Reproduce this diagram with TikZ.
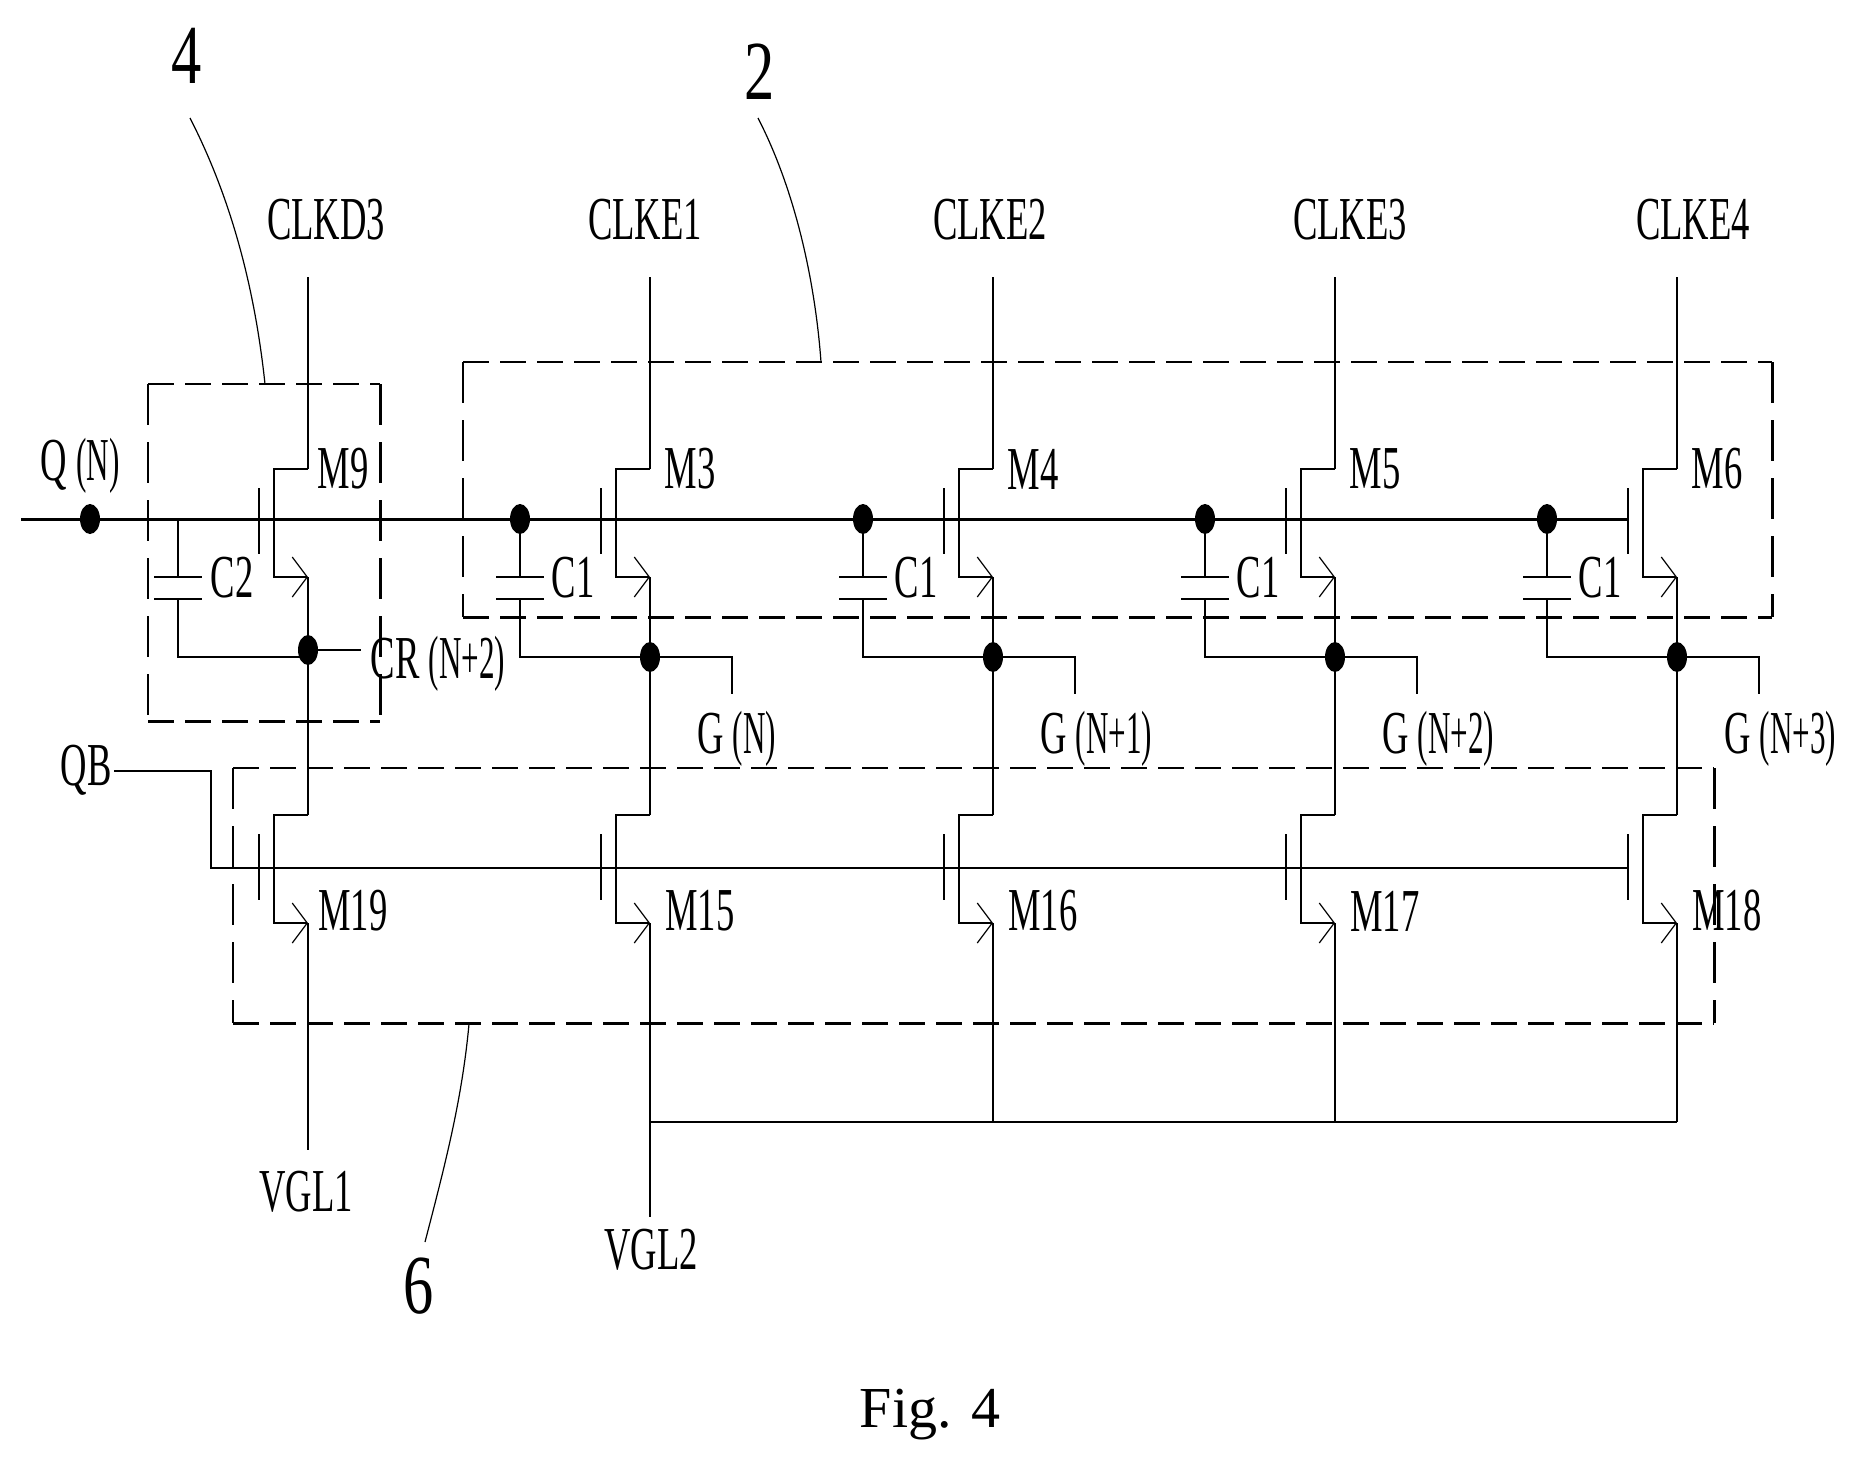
\documentclass[tikz,border=0pt]{standalone}
\usepackage{fontspec}
\setmainfont{Liberation Serif}
\usetikzlibrary{positioning,arrows.meta,shapes.geometric}

\newcommand{\pn}[1]{\scalebox{.85}[1]{(#1)}}
\newcommand{\mosfet}[3]{
    \coordinate (#1up) at (#2,#3);
    \coordinate (#1dn) at (#2,#3+108);
    \draw[wire,->] (#1up) -- (#2-34,#3) -- (#2-34,#3+108) -- (#1dn);
    \draw[wire] (#2-49,#3+19) -- (#2-49,#3+85);
}
\newcommand{\capac}[2]{
    \coordinate (#1a) at (#2,577);
    \coordinate (#1b) at (#2,599);
    \draw[wire] ([xshift=-24pt]#1a) -- ([xshift=24pt]#1a);
    \draw[wire] ([xshift=-24pt]#1b) -- ([xshift=24pt]#1b);
}

\begin{document}
\begin{tikzpicture}[x=1pt,y=-1pt]
    \begin{scope}[>={Straight Barb[length=15pt,width=40pt,line width=1.2pt]},
    		wire/.style={line width=2.3pt},
    		bus/.style={line width=3pt},
    		lead/.style={line width=1.2pt},
    		hdash/.style={line width=2.6pt,dash pattern=on 26pt off 11pt},
    		vdash/.style={line width=2.2pt,dash pattern=on 41pt off 17pt},
    		region/.style={rectangle,anchor=north west,inner sep=0pt},
    		dot/.style={ellipse,fill=black,inner sep=0pt,minimum width=20pt,minimum height=30pt},
    		lab/.style={font=\fontsize{61}{61}\selectfont,xscale=.6,inner sep=0pt},
    		num/.style={font=\fontsize{84}{84}\selectfont,xscale=.72,inner sep=0pt}]

    \useasboundingbox (0,0) rectangle (1858,1461);

    \node[region,minimum width=232pt,minimum height=337pt] (box4) at (148,384) {};
    \node[region,minimum width=1309pt,minimum height=255pt] (box2) at (463,362) {};
    \node[region,minimum width=1481pt,minimum height=255pt] (box6) at (233,768) {};

    \foreach \b in {box4,box2,box6}{
        \draw[hdash] (\b.north west) -- (\b.north east);
        \draw[hdash] (\b.south west) -- (\b.south east);
        \draw[vdash] (\b.north west) -- (\b.south west);
        \draw[vdash] (\b.north east) -- (\b.south east);
    }

    \node[num] (num4) at (187,56) {4};
    \node[num] (num2) at (760,72) {2};
    \node[num] (num6) at (419,1286) {6};
    \coordinate (tap4) at (265,384);
    \coordinate (tap2) at (821,362);
    \coordinate (tap6) at (469,1024);
    \coordinate (from4) at (190,118);
    \coordinate (from2) at (758,118);
    \coordinate (from6) at (425,1242);
    \draw[lead] (from4) .. controls (232,200) and (255,290) .. (tap4);
    \draw[lead] (from2) .. controls (795,190) and (815,280) .. (tap2);
    \draw[lead] (from6) .. controls (445,1165) and (462,1100) .. (tap6);

    % gate lines
    \node[lab] (qn) at (80,466) {Q \pn{N}};
    \node[lab] (qb) at (86,770) {QB};
    \coordinate (qstart) at (21,519);
    \coordinate (qend) at (1628,519);
    \coordinate (qbstart) at (114,771);
    \coordinate (qbend) at (1628,868);
    \draw[bus] (qstart) -- (qend);
    \draw[wire] (qbstart) -| (211,868) -- (qbend);
    \node[dot] (qdot) at (90,519) {};

    % first column
    \mosfet{m9}{308}{469}
    \mosfet{m19}{308}{815}
    \capac{c2}{178}
    \node[lab] (clk9) at (326,220) {CLKD3};
    \node[lab] at (343,469) {M9};
    \node[lab] (m19lab) at (353,911) {M19};
    \node[lab] (c2lab) at (232,578) {C2};
    \node[lab] (crlab) at (438,664) {CR \pn{N+2}};
    \node[lab] (vgl1) at (306,1192) {VGL1};
    \coordinate (top9) at (308,277);
    \coordinate (end9) at (308,1150);
    \coordinate (c2q) at (178,519);
    \coordinate (g9) at (308,657);
    \coordinate (crend) at (361,650);
    \draw[wire] (top9) -- (m9up);
    \draw[wire] (m9dn) -- (m19up);
    \draw[wire] (m19dn) -- (end9);
    \draw[wire] (c2q) -- (c2a);
    \draw[wire] (c2b) |- (g9);
    \node[dot] (crdot) at (308,650) {};
    \draw[wire] (crdot) -- (crend);

    % the four stages
    \foreach \col/\dx/\clk/\cx/\up/\low/\glab in {
        3/650/CLKE1/645/M3/M15/G \pn{N},
        4/993/CLKE2/990/M4/M16/G \pn{N+1},
        5/1335/CLKE3/1350/M5/M17/G \pn{N+2},
        6/1677/CLKE4/1693/M6/M18/G \pn{N+3}}{
        \mosfet{mu\col}{\dx}{469}
        \mosfet{ml\col}{\dx}{815}
        \capac{c\col}{\dx-130}
        \node[lab] (clk\col) at (\cx,220) {\clk};
        \node[lab] at (\dx+40,469) {\up};
        \node[lab] at (\dx+50,911) {\low};
        \node[lab] at (\dx-77,578) {C1};
        \node[lab,anchor=west] at (\dx+47,739) {\glab};
        \coordinate (top\col) at (\dx,277);
        \coordinate (stub\col) at (\dx+82,694);
        \node[dot] (qj\col) at (\dx-130,519) {};
        \node[dot] (g\col) at (\dx,657) {};
        \draw[wire] (top\col) -- (mu\col up);
        \draw[wire] (mu\col dn) -- (ml\col up);
        \draw[wire] (qj\col) -- (c\col a);
        \draw[wire] (c\col b) |- (g\col);
        \draw[wire] (g\col) -| (stub\col);
    }

    % low rail
    \node[lab] (vgl2) at (651,1250) {VGL2};
    \coordinate (vgl2end) at (650,1217);
    \coordinate (rail4) at (993,1122);
    \coordinate (rail5) at (1335,1122);
    \coordinate (rail6) at (1677,1122);
    \draw[wire] (ml3dn) -- (vgl2end);
    \draw[wire] (ml4dn) -- (rail4);
    \draw[wire] (ml5dn) -- (rail5);
    \draw[wire] (ml6dn) -- (rail6);
    \draw[wire] (650,1122) -- (rail4) -- (rail5) -- (rail6);

    \node[font=\fontsize{58}{58}\selectfont,inner sep=0pt] (fig) at (930,1415) {Fig. 4};

    \end{scope}
\end{tikzpicture}
\end{document}
